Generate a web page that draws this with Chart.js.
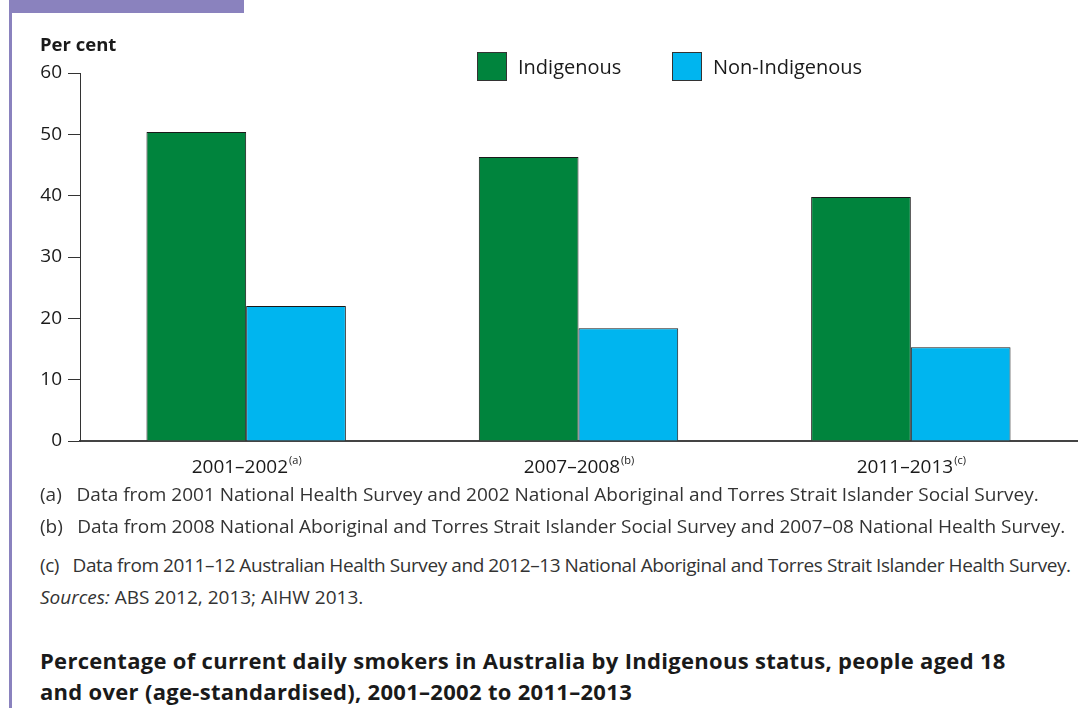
<!DOCTYPE html>
<html>
<head>
<meta charset="utf-8">
<script src="https://cdn.jsdelivr.net/npm/chart.js@4"></script>
<style>
  html, body { margin: 0; padding: 0; background: #fff; }
  body { width: 1083px; height: 715px; position: relative; overflow: hidden; font-family: "Open Sans", sans-serif; color: #1a1a1a; }
  .tab { position: absolute; left: 9px; top: 0; width: 235px; height: 13px; background: #8a82be; }
  .rule { position: absolute; left: 9px; top: 0; width: 3px; height: 708px; background: #8a82be; }
  .chart-box { position: absolute; left: 0; top: 0; width: 1083px; height: 490px; }
  .unit { position: absolute; left: 40px; top: 31px; font-size: 18.5px; font-weight: 700; }
  .legend { position: absolute; top: 52px; font-size: 20px; }
  .legend span.box { position: absolute; left: 0; top: 0; width: 30px; height: 29px; border: 1px solid #333; box-sizing: border-box; }
  .legend span.txt { position: absolute; left: 41px; top: 0px; white-space: nowrap; line-height: 29px; }
  .note { position: absolute; left: 40px; font-size: 19px; color: #333; white-space: nowrap; line-height: 26px; }
  .title { position: absolute; left: 40px; top: 645px; font-size: 22px; font-weight: 700; line-height: 31px; letter-spacing: 0.3px; white-space: nowrap; }
</style>
</head>
<body>
<div class="tab"></div>
<div class="rule"></div>
<div class="chart-box"><canvas id="chart"></canvas></div>
<div class="unit">Per cent</div>
<div class="legend" style="left:477px"><span class="box" style="background:#00843d"></span><span class="txt">Indigenous</span></div>
<div class="legend" style="left:672px"><span class="box" style="background:#00b5ef"></span><span class="txt">Non-Indigenous</span></div>
<div class="note" style="top:481px">(a)&nbsp;&nbsp; Data from 2001 National Health Survey and 2002 National Aboriginal and Torres Strait Islander Social Survey.</div>
<div class="note" style="top:513px; letter-spacing:-0.05px">(b)&nbsp;&nbsp; Data from 2008 National Aboriginal and Torres Strait Islander Social Survey and 2007–08 National Health Survey.</div>
<div class="note" style="top:552px; letter-spacing:-0.42px">(c)&nbsp;&nbsp; Data from 2011–12 Australian Health Survey and 2012–13 National Aboriginal and Torres Strait Islander Health Survey.</div>
<div class="note" style="top:584px"><i>Sources:</i> ABS 2012, 2013; AIHW 2013.</div>
<div class="title">Percentage of current daily smokers in Australia by Indigenous status, people aged 18<br>and over (age-standardised), 2001–2002 to 2011–2013</div>

<script>
const categories = ['2001–2002', '2007–2008', '2011–2013']
const noteMarks = ['(a)', '(b)', '(c)']
const indigenous = [50.4, 46.3, 39.8]
const nonIndigenous = [22.0, 18.4, 15.3]
const yTicks = [0, 10, 20, 30, 40, 50, 60]

Chart.defaults.font.family = '"Open Sans", sans-serif'
Chart.defaults.font.size = 19
Chart.defaults.color = '#1a1a1a'

// x labels with a superscript note mark, drawn under each category
const xLabels = {
  id: 'xLabels',
  afterDraw(chart) {
    const ctx = chart.ctx
    const xs = chart.scales.x
    const y = chart.chartArea.bottom + 27
    ctx.save()
    ctx.fillStyle = '#1a1a1a'
    ctx.textBaseline = 'middle'
    ctx.textAlign = 'left'
    categories.forEach((c, i) => {
      ctx.font = '19px "Open Sans", sans-serif'
      const w1 = ctx.measureText(c).width
      ctx.font = '11px "Open Sans", sans-serif'
      const w2 = ctx.measureText(noteMarks[i]).width
      const x0 = xs.getPixelForTick(i) - (w1 + w2) / 2
      ctx.font = '19px "Open Sans", sans-serif'
      ctx.fillText(c, x0, y)
      ctx.font = '11px "Open Sans", sans-serif'
      ctx.fillText(noteMarks[i], x0 + w1 + 1, y - 7)
    })
    ctx.restore()
  }
}

new Chart(document.getElementById('chart'), {
  type: 'bar',
  data: {
    labels: categories,
    datasets: [
      {
        label: 'Indigenous',
        data: indigenous,
        backgroundColor: '#00843d',
        borderColor: '#1a1a1a',
        borderWidth: 1,
      },
      {
        label: 'Non-Indigenous',
        data: nonIndigenous,
        backgroundColor: '#00b5ef',
        borderColor: '#1a1a1a',
        borderWidth: 1,
      },
    ],
  },
  options: {
    responsive: true,
    maintainAspectRatio: false,
    animation: false,
    layout: { padding: { top: 73, right: 6, left: 0, bottom: 0 } },
    plugins: {
      legend: { display: false },
      tooltip: { enabled: false },
    },
    datasets: {
      bar: { categoryPercentage: 0.6, barPercentage: 1 },
    },
    scales: {
      x: {
        grid: { display: false },
        border: { display: true, color: '#444', width: 2 },
        ticks: { display: false },
        afterFit(scale) { scale.height = 49 },
      },
      y: {
        min: 0,
        max: 60,
        afterBuildTicks(scale) { scale.ticks = yTicks.map(v => ({ value: v })) },
        grid: { drawOnChartArea: false, drawTicks: true, tickLength: 12, color: '#333', lineWidth: 1 },
        border: { display: true, color: '#333', width: 1 },
        ticks: { padding: 6 },
        afterFit(scale) { scale.width = 80 },
      },
    },
  },
  plugins: [xLabels],
})
</script>
</body>
</html>
